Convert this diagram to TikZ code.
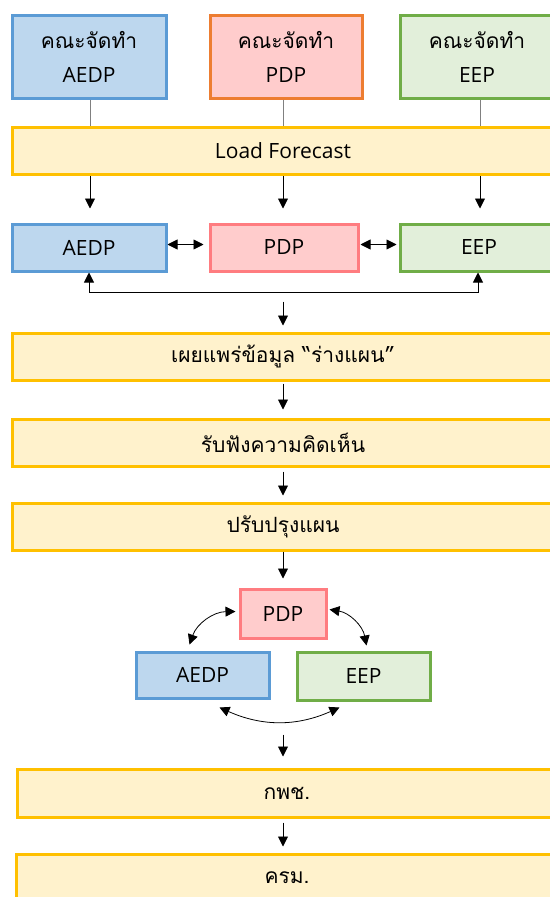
\documentclass[tikz,border=0pt]{standalone}
\usepackage{fontspec}
\setmainfont[Script=Thai]{Loma}
\newfontfamily\latinfont{Open Sans}
\usetikzlibrary{arrows.meta,calc}
\definecolor{bfill}{HTML}{BDD7EE}
\definecolor{bline}{HTML}{5B9BD5}
\definecolor{pfill}{HTML}{FFCCCC}
\definecolor{pline}{HTML}{FF7C80}
\definecolor{oline}{HTML}{ED7D31}
\definecolor{gfill}{HTML}{E2EFDA}
\definecolor{gline}{HTML}{70AD47}
\definecolor{yfill}{HTML}{FFF2CC}
\definecolor{yline}{HTML}{FFC000}
\newcommand{\thtxt}[1]{{\fontsize{21}{34}\selectfont #1}}
\newcommand{\latxt}[1]{{\latinfont\fontsize{21}{34}\selectfont #1}}
\begin{document}
\begin{tikzpicture}[x=1pt,y=-1pt,
  box/.style={draw, rectangle, line width=3pt, inner sep=0pt, align=center,
    font=\fontsize{18}{34}\selectfont},
  bluebox/.style={box, fill=bfill, draw=bline},
  pinkbox/.style={box, fill=pfill, draw=pline},
  orangebox/.style={box, fill=pfill, draw=oline},
  greenbox/.style={box, fill=gfill, draw=gline},
  yellowbox/.style={box, fill=yfill, draw=yline},
  tip/.tip={Triangle[length=10pt,width=10pt]},
  arr/.style={-tip, line width=0.9pt, black},
  darr/.style={tip-tip, line width=0.9pt, black},
  glink/.style={line width=1pt, draw=gray},
]
\useasboundingbox (0,0) rectangle (549,897);
\fill[white] (0,0) rectangle (549,897);

\coordinate (cA) at (90,0);
\coordinate (cP) at (283,0);
\coordinate (cE) at (480,0);

% top committee boxes
\node[bluebox, minimum width=154pt, minimum height=83pt] (c1) at (89,56.5) {\thtxt{คณะจัดทำ}\\\latxt{AEDP}};
\node[orangebox, minimum width=152pt, minimum height=83pt] (c2) at (286,56.5) {\thtxt{คณะจัดทำ}\\\latxt{PDP}};
\node[greenbox, minimum width=154pt, minimum height=83pt] (c3) at (477,56.5) {\thtxt{คณะจัดทำ}\\\latxt{EEP}};

\node[yellowbox, minimum width=542pt, minimum height=47pt] (lf) at (283,151) {\latxt{Load Forecast}};

% second row
\node[bluebox, minimum width=154pt, minimum height=47pt] (r1) at (89,247.5) {\latxt{AEDP}};
\node[pinkbox, minimum width=148pt, minimum height=47pt] (r2) at (284,247.5) {\latxt{PDP}};
\node[greenbox, minimum width=158pt, minimum height=47pt] (r3) at (479,247.5) {\latxt{EEP}};

% process boxes
\node[yellowbox, minimum width=542pt, minimum height=47pt] (y1) at (283,356.5) {\thtxt{เผยแพร่ข้อมูล “ร่างแผน”}};
\node[yellowbox, minimum width=542pt, minimum height=47pt] (y2) at (283,442.5) {\thtxt{รับฟังความคิดเห็น}};
\node[yellowbox, minimum width=542pt, minimum height=47pt] (y3) at (283,526.5) {\thtxt{ปรับปรุงแผน}};

% cluster
\node[pinkbox, minimum width=86pt, minimum height=49pt] (p3) at (283,613.5) {\latxt{PDP}};
\node[bluebox, minimum width=133pt, minimum height=46pt] (a3) at (202.5,675) {\latxt{AEDP}};
\node[greenbox, minimum width=133pt, minimum height=48pt] (e3) at (363.5,676) {\latxt{EEP}};

\node[yellowbox, minimum width=540pt, minimum height=48pt] (y4) at (287,793) {\thtxt{กพช.}};
\node[yellowbox, minimum width=542pt, minimum height=48pt] (y5) at (287,878) {\thtxt{ครม.}};

% connectors top
\draw[glink] (c1.south -| cA) -- (lf.north -| cA);
\draw[glink] (c2.south -| cP) -- (lf.north -| cP);
\draw[glink] (c3.south -| cE) -- (lf.north -| cE);

\draw[arr, shorten >=14pt] (lf.south -| cA) -- (r1.north -| cA);
\draw[arr, shorten >=14pt] (lf.south -| cP) -- (r2.north -| cP);
\draw[arr, shorten >=14pt] (lf.south -| cE) -- (r3.north -| cE);

\draw[darr, shorten >=5pt] ([yshift=3pt]r1.east) -- ([yshift=3pt]r2.west);
\draw[darr, shorten <=1pt, shorten >=2pt] ([yshift=3pt]r2.east) -- ([yshift=3pt]r3.west);

\coordinate (cE2) at (478,0);
\draw[darr] (r1.south) -- ++(0,20) -| (r3.south -| cE2);

\draw[arr, shorten <=29pt, shorten >=6pt] (r2.south -| cP) -- (y1.north -| cP);
\draw[arr, shorten <=2pt, shorten >=8pt] (y1.south -| cP) -- (y2.north -| cP);
\draw[arr, shorten <=4pt, shorten >=6pt] (y2.south -| cP) -- (y3.north -| cP);
\draw[arr, shorten >=9pt] (y3.south -| cP) -- (p3.north -| cP);

% cluster arrows
\draw[darr, line width=0.8pt] ([xshift=55pt,yshift=6pt]a3.north west) to[bend left=35] ([xshift=-3pt,yshift=2pt]p3.west);
\draw[darr, line width=0.8pt] ([xshift=2pt,yshift=4pt]p3.east) to[bend left=35] ([xshift=71pt,yshift=5pt]e3.north west);
\draw[darr, line width=0.8pt] ([xshift=-51pt,yshift=-8pt]a3.south east) to[bend right=24] ([xshift=44pt,yshift=-6pt]e3.south west);

\draw[arr, shorten <=35pt, shorten >=11pt] (a3.south -| cP) -- (y4.north -| cP);
\draw[arr, shorten <=4pt, shorten >=6pt] (y4.south -| cP) -- (y5.north -| cP);
\end{tikzpicture}
\end{document}
